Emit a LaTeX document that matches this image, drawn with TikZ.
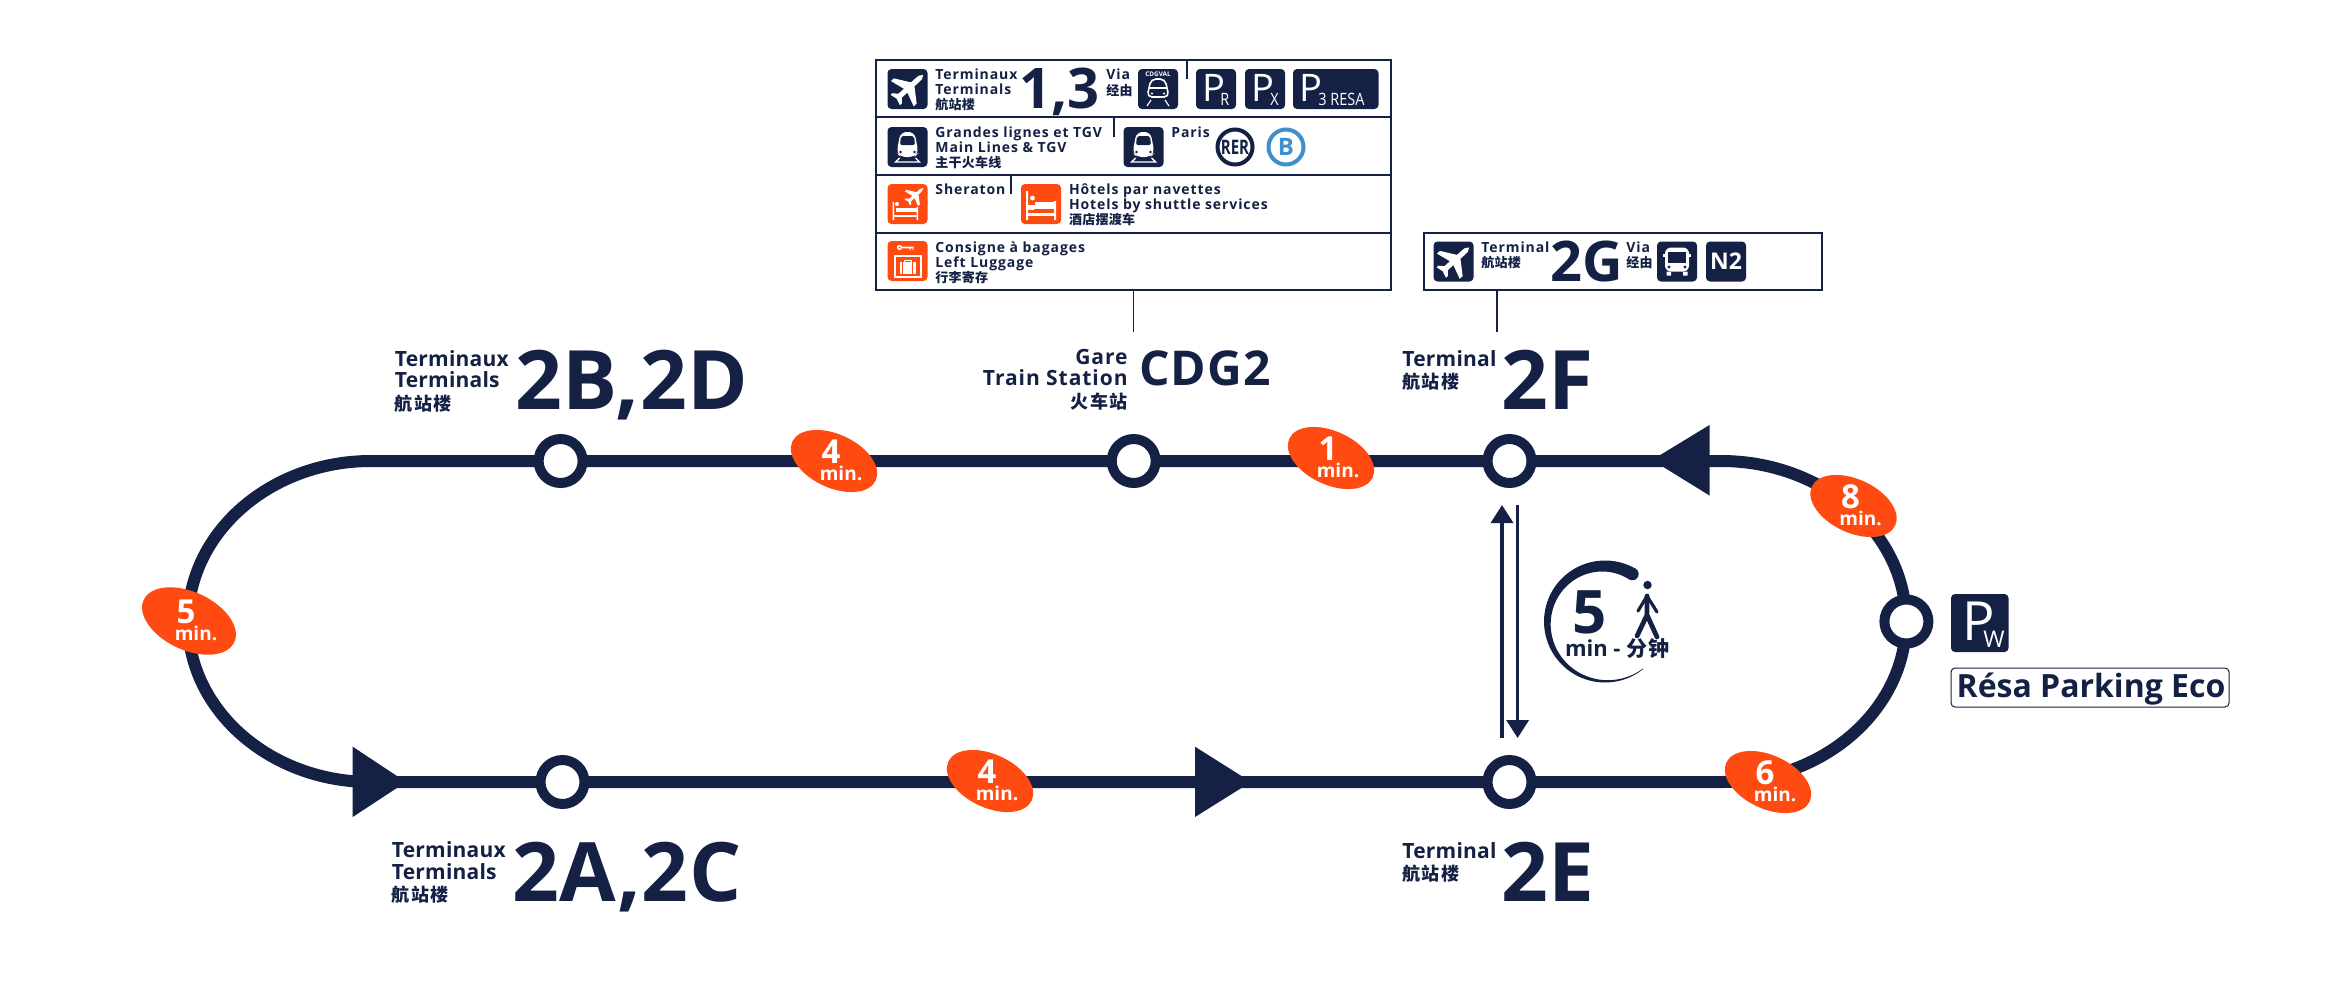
\documentclass[tikz,border=0pt]{standalone}
\usepackage{fontspec}
\usetikzlibrary{shapes.geometric,arrows.meta}
\setmainfont{Open Sans}
\newfontfamily\wide[LetterSpace=6.5]{Open Sans}
\newfontfamily\midwide[LetterSpace=1]{Open Sans}
\newfontfamily\stnwide[LetterSpace=4.5]{Open Sans}
\newfontfamily\cdgfont[LetterSpace=2]{Open Sans}
\newfontfamily\bigfont[LetterSpace=1]{Open Sans}
\newfontfamily\narrowfont[FakeStretch=0.85]{Open Sans}
\newfontfamily\rerfont[FakeStretch=0.75]{Open Sans}
\newfontfamily\cjk[LetterSpace=8]{Noto Sans CJK SC}
\newfontfamily\cjksmall[LetterSpace=2]{Noto Sans CJK SC}
\definecolor{navy}{HTML}{142144}
\definecolor{flame}{HTML}{FF4A12}
\definecolor{rerblue}{HTML}{3F8FCF}
\tikzset{
  x=0.5pt,y=-0.5pt,
  track/.style={draw=navy,line width=6pt},
  station/.style={circle,draw=navy,fill=white,line width=5pt,minimum size=22pt,inner sep=0pt},
  badgeshape/.style={ellipse,fill=flame,inner sep=0pt,rotate=-25},
  badgenum/.style={anchor=base,inner sep=0pt,text=white,font=\fontsize{16.5}{16.5}\selectfont\bfseries},
  badgemin/.style={anchor=base,inner sep=0pt,text=white,font=\fontsize{9.5}{9.5}\selectfont\bfseries},
  panelbox/.style={draw=navy,fill=white,line width=0.75pt,inner sep=0pt},
  rule/.style={draw=navy,line width=0.6pt},
  small/.style={anchor=base west,inner sep=0pt,text=navy,font=\fontsize{7}{7}\wide\bfseries},
  smallcn/.style={anchor=base west,inner sep=0pt,text=navy,font=\fontsize{6.5}{6.5}\cjksmall\bfseries},
  mid/.style={anchor=base west,inner sep=0pt,text=navy,font=\fontsize{10.5}{10.5}\midwide\bfseries},
  stn/.style={inner sep=0pt,text=navy,font=\fontsize{10.5}{10.5}\stnwide\bfseries},
  midcn/.style={anchor=base west,inner sep=0pt,text=navy,font=\fontsize{9}{9}\cjk\bfseries},
  big/.style={anchor=base west,inner sep=0pt,text=navy,font=\fontsize{41}{41}\bigfont\bfseries},
  walkarrow/.style={draw=navy,line width=1.75pt,-{Triangle[length=9pt,width=11pt]}},
  planeicon/.pic={
    \fill[navy,rounded corners=2pt] (0,0) rectangle (40,40);
    \begin{scope}[shift={(20,20)},rotate=-48]
      \fill[white] (0,-21) .. controls (2.6,-19) and (2.6,-16) .. (2.6,-14) -- (2.6,-7) -- (17,3) -- (17,7) -- (2.6,2.5) -- (2.6,10) -- (7,14) -- (7,16.5) -- (0,14.5) -- (-7,16.5) -- (-7,14) -- (-2.6,10) -- (-2.6,2.5) -- (-17,7) -- (-17,3) -- (-2.6,-7) -- (-2.6,-14) .. controls (-2.6,-16) and (-2.6,-19) .. (0,-21) -- cycle;
    \end{scope}},
  trainicon/.pic={
    \fill[navy,rounded corners=2pt] (0,0) rectangle (40,40);
    \fill[white,rounded corners=3pt] (13,5) -- (27,5) -- (31,26) -- (27,30) -- (13,30) -- (9,26) -- cycle;
    \fill[navy,rounded corners=1pt] (13.5,9) -- (26.5,9) -- (27.5,18) -- (12.5,18) -- cycle;
    \fill[navy] (13,25) circle (1.3) (27,25) circle (1.3);
    \draw[white,line width=0.7pt] (12,31) -- (8,35) -- (32,35) -- (28,31);
  },
  valicon/.pic={
    \fill[navy,rounded corners=2pt] (0,0) rectangle (40,40);
    \node[inner sep=0pt,text=white,font=\fontsize{3.2}{3.2}\selectfont\bfseries] (valname) at (20,5) {CDGVAL};
    \draw[white,line width=0.8pt,rounded corners=2.5pt] (13,10) -- (27,10) -- (31,28) -- (9,28) -- cycle;
    \draw[white,line width=0.7pt] (11.5,19) -- (28.5,19);
    \fill[white] (14,24.5) circle (1.2) (26,24.5) circle (1.2);
    \draw[white,line width=0.6pt] (13,31) -- (9,37) (27,31) -- (31,37);
  },
  busicon/.pic={
    \fill[navy,rounded corners=2pt] (0,0) rectangle (40,40);
    \fill[white,rounded corners=3pt] (8,6) rectangle (32,30);
    \fill[white] (6,12) rectangle (34,15);
    \fill[navy] (11,10) rectangle (29,21);
    \fill[navy] (12,25.5) circle (1.6) (28,25.5) circle (1.6);
    \fill[white] (9.5,30) rectangle (14,34) (26,30) rectangle (30.5,34);
  },
  hotelicon/.pic={
    \fill[flame,rounded corners=2pt] (0,0) rectangle (40,40);
    \fill[white] (5,7) rectangle (7,36) (33,17) rectangle (35,36);
    \fill[white] (7,29) rectangle (33,31.5);
    \fill[white] (14,18) rectangle (33,21);
    \fill[white] (7.5,21) rectangle (33,25) ;
    \fill[white] (11.5,14) circle (2.4);
    \fill[white] (7,21) rectangle (13,26);
  },
  shericon/.pic={
    \fill[flame,rounded corners=2pt] (0,0) rectangle (40,40);
    \fill[white] (5,18) rectangle (6.5,36) (29,23) rectangle (30.5,36);
    \fill[white] (6.5,31) rectangle (29,33);
    \fill[white] (8,24) rectangle (29,28);
    \fill[white] (9.5,20) circle (2);
    \begin{scope}[shift={(27,12)},rotate=-48,scale=0.58]
      \fill[white] (0,-21) -- (2.6,-14) -- (2.6,-7) -- (17,3) -- (17,7) -- (2.6,2.5) -- (2.6,10) -- (7,14) -- (7,16.5) -- (0,14.5) -- (-7,16.5) -- (-7,14) -- (-2.6,10) -- (-2.6,2.5) -- (-17,7) -- (-17,3) -- (-2.6,-7) -- (-2.6,-14) -- cycle;
    \end{scope}
  },
  luggageicon/.pic={
    \fill[flame,rounded corners=2pt] (0,0) rectangle (40,40);
    \fill[white] (12,6.5) circle (2.6);
    \fill[white] (13,5.7) rectangle (26,7.3) (22,7) rectangle (23,9) (25,7) rectangle (26,9);
    \fill[flame] (12,6.5) circle (1);
    \draw[white,line width=1pt] (7,15) rectangle (33,36);
    \fill[white] (12,21) rectangle (28,33);
    \draw[white,line width=0.5pt] (16.5,21) -- (16.5,19) -- (23.5,19) -- (23.5,21);
    \draw[flame,line width=0.4pt] (15,21) -- (15,33) (25,21) -- (25,33);
  }
}
\newcommand{\bdg}[6]{%
  \node[badgeshape,minimum width=#5pt,minimum height=#6pt] (b#1) at (#2,#3) {};
  \node[badgenum] (n#1) at ([shift={(-3,2)}]b#1.center) {#4};
  \node[badgemin] (m#1) at ([shift={(7,19)}]b#1.center) {min.};
}
\begin{document}
\begin{tikzpicture}
\useasboundingbox[fill=white] (0,0) rectangle (2327,986);

% track
\coordinate (tl) at (371,461);
\coordinate (tr) at (1721,461);
\coordinate (br) at (1721,782);
\coordinate (bl) at (371,782);
\coordinate (lm) at (188,621.5);
\coordinate (rm) at (1906,621.5);
\draw[track] (tl) -- (tr) .. controls (1823,461) and (1906,533) .. (rm)
  .. controls (1906,710) and (1823,782) .. (br) -- (bl)
  .. controls (270,782) and (188,710) .. (lm)
  .. controls (188,533) and (270,461) .. (tl) -- cycle;

% direction flags
\fill[navy] (1652,460) -- (1709.5,425) -- (1709.5,495.5) -- cycle;
\fill[navy] (406,782) -- (352.7,746.7) -- (352.7,817) -- cycle;
\fill[navy] (1251,782) -- (1195,746.7) -- (1195,817) -- cycle;

% stations
\node[station] (s2b) at (560.6,461) {};
\node[station] (sgare) at (1133.7,461) {};
\node[station] (s2f) at (1509.5,461) {};
\node[station] (s2a) at (562.5,782) {};
\node[station] (s2e) at (1509.5,782) {};
\node[station] (spw) at (1906.4,621.5) {};

% badges
\bdg{a}{189}{621}{5}{50}{29}
\bdg{b}{834}{461}{4}{46}{26.7}
\bdg{c}{1331}{458}{1}{46}{26.7}
\bdg{d}{990}{781}{4}{46}{26.7}
\bdg{e}{1768}{782}{6}{46}{26.7}
\bdg{f}{1853.5}{506}{8}{46}{26.7}

% walk link
\coordinate (wl1) at (1502,738);
\coordinate (wl2) at (1502,505);
\coordinate (wr1) at (1517.6,505);
\coordinate (wr2) at (1517.6,738);
\draw[walkarrow] (wl1) -- (wl2);
\draw[walkarrow] (wr1) -- (wr2);

% walk clock
\fill[navy] plot[domain=60:309,samples=70] ({1605+61*cos(\x)},{621.5-61*sin(\x)})
  -- plot[domain=309:60,samples=70] ({1605+(61-(12.5-(\x-60)*12/249))*cos(\x)},{621.5-(61-(12.5-(\x-60)*12/249))*sin(\x)}) -- cycle;
\fill[navy] (1632.4,574) circle (6.25);
\node[anchor=base,inner sep=0pt,text=navy,font=\fontsize{30}{30}\selectfont\bfseries] (fivemin) at (1590,633) {5};
\node[anchor=base west,inner sep=0pt,text=navy,font=\fontsize{11}{11}\selectfont\bfseries] (minword) at (1564.6,656.7) {min - {\fontsize{10.5}{10.5}\cjk\bfseries 分钟}};
% walker
\fill[navy] (1647.5,585) circle (4.2);
\draw[navy,line width=1.6pt,line cap=round,line join=round] (1647,596) -- (1638,611) (1647,596) -- (1657,612);
\draw[navy,line width=2.4pt,line cap=round,line join=round] (1647,596) -- (1647,615) -- (1657,637) (1647,615) -- (1637,636);

% map labels
\node[big] (l2b) at (515,409) {2B,2D};
\node[mid] (l2b1) at (394.5,366) {Terminaux};
\node[mid] (l2b2) at (394.5,387) {Terminals};
\node[midcn] (l2b3) at (394.5,410) {航站楼};

\node[big] (l2a) at (512,901) {2A,2C};
\node[mid] (l2a1) at (391.5,857) {Terminaux};
\node[mid] (l2a2) at (391.5,879) {Terminals};
\node[midcn] (l2a3) at (391.5,901) {航站楼};

\node[big] (l2f) at (1501,409) {2F};
\node[mid] (l2f1) at (1402,366) {Terminal};
\node[midcn] (l2f2) at (1402,388) {航站楼};

\node[big] (l2e) at (1501,901) {2E};
\node[mid] (l2e1) at (1402,858) {Terminal};
\node[midcn] (l2e2) at (1402,880) {航站楼};

\node[anchor=base west,inner sep=0pt,text=navy,font=\fontsize{24}{24}\cdgfont\bfseries] (lcdg) at (1139,385.7) {CDG2};
\node[stn,anchor=base east] (lg1) at (1128,364) {Gare};
\node[stn,anchor=base east] (lg2) at (1128,385.7) {Train Station};
\node[midcn,anchor=base east] (lg3) at (1128,408) {火车站};

% Pw
\fill[navy,rounded corners=2pt] (1951,594) rectangle (2008.5,652);
\node[anchor=base west,inner sep=0pt,text=white,font=\fontsize{27}{27}\selectfont] (pwp) at (1962,640) {P};
\node[anchor=base west,inner sep=0pt,text=white,font=\fontsize{11.5}{11.5}\selectfont] (pww) at (1983,647) {W};
\node[draw=navy,fill=white,line width=0.5pt,rounded corners=2pt,inner sep=0pt,minimum width=139pt,minimum height=19.5pt] (resabox) at (2090,687.5) {};
\node[anchor=base,inner sep=0pt,text=navy,font=\fontsize{16}{16}\selectfont\bfseries] (resa) at (2091,697) {Résa Parking Eco};

% panel A
\node[panelbox,minimum width=257.5pt,minimum height=115pt] (panela) at (1133.5,175) {};
\coordinate (stema) at (1133.5,332);
\draw[rule] (panela.south) -- (stema);
\draw[rule] (876,117) -- (1391,117) (876,175) -- (1391,175) (876,233) -- (1391,233);
\draw[rule] (1187,60) -- (1187,79) (1114,117) -- (1114,137) (1011,175) -- (1011,194);

% row 1
\pic at (887.5,69) {planeicon};
\node[small] (a1) at (935,79) {Terminaux};
\node[small] (a2) at (935,94) {Terminals};
\node[smallcn] (a3) at (935,109) {航站楼};
\node[anchor=base west,inner sep=0pt,text=navy,font=\fontsize{28}{28}\selectfont\bfseries] (a4) at (1019,108) {1,3};
\node[small] (a5) at (1106,79) {Via};
\node[smallcn] (a6) at (1106,95) {经由};
\pic at (1138,69) {valicon};
\fill[navy,rounded corners=2pt] (1196,69) rectangle (1236,109);
\fill[navy,rounded corners=2pt] (1245,69) rectangle (1285,109);
\fill[navy,rounded corners=2pt] (1293,69) rectangle (1378.5,109);
\node[anchor=base west,inner sep=0pt,text=white,font=\fontsize{19}{19}\selectfont] (pr1) at (1202,101) {P};
\node[anchor=base west,inner sep=0pt,text=white,font=\fontsize{8.5}{8.5}\narrowfont] (pr2) at (1220,105) {R};
\node[anchor=base west,inner sep=0pt,text=white,font=\fontsize{19}{19}\selectfont] (px1) at (1251,101) {P};
\node[anchor=base west,inner sep=0pt,text=white,font=\fontsize{8.5}{8.5}\narrowfont] (px2) at (1270,105) {X};
\node[anchor=base west,inner sep=0pt,text=white,font=\fontsize{19}{19}\selectfont] (p31) at (1299,101) {P};
\node[anchor=base west,inner sep=0pt,text=white,font=\fontsize{8.5}{8.5}\narrowfont] (p32) at (1318,105) {3 RESA};

% row 2
\pic at (887.5,127) {trainicon};
\node[small] (b1) at (935,137) {Grandes lignes et TGV};
\node[small] (b2) at (935,152) {Main Lines \& TGV};
\node[smallcn] (b3) at (935,167) {主干火车线};
\pic at (1123.5,127) {trainicon};
\node[small] (b4) at (1171,137) {Paris};
\node[circle,draw=navy,fill=white,line width=2pt,minimum size=17.5pt,inner sep=0pt,font=\fontsize{10}{10}\rerfont\bfseries,text=navy] (rer) at (1235,147) {RER};
\node[circle,draw=rerblue,fill=white,line width=2pt,minimum size=17.5pt,inner sep=0pt,font=\fontsize{12}{12}\selectfont\bfseries,text=rerblue] (rerb) at (1286,147) {B};

% row 3
\pic at (887.5,184) {shericon};
\node[small] (c1) at (935,194) {Sheraton};
\pic at (1021,184) {hotelicon};
\node[small] (c2) at (1068.6,194) {Hôtels par navettes};
\node[small] (c3) at (1068.6,209) {Hotels by shuttle services};
\node[smallcn] (c4) at (1068.6,224) {酒店摆渡车};

% row 4
\pic at (887.5,241) {luggageicon};
\node[small] (d1) at (935,252) {Consigne à bagages};
\node[small] (d2) at (935,267) {Left Luggage};
\node[smallcn] (d3) at (935,282) {行李寄存};

% panel B
\node[panelbox,minimum width=199pt,minimum height=28.5pt] (panelb) at (1623,261.5) {};
\coordinate (stemb) at (1497,332);
\draw[rule] (panelb.south -| stemb) -- (stemb);
\pic at (1433.5,241.5) {planeicon};
\node[small] (e1) at (1481,252) {Terminal};
\node[smallcn] (e2) at (1481,267) {航站楼};
\node[anchor=base west,inner sep=0pt,text=navy,font=\fontsize{28}{28}\selectfont\bfseries] (e3) at (1550,281) {2G};
\node[small] (e4) at (1626,252) {Via};
\node[smallcn] (e5) at (1626,267) {经由};
\pic at (1657,241.5) {busicon};
\fill[navy,rounded corners=2pt] (1706,241.5) rectangle (1746,281.5);
\node[inner sep=0pt,text=white,font=\fontsize{11.5}{11.5}\selectfont\bfseries] (n2) at (1726,261.5) {N2};
\end{tikzpicture}
\end{document}
